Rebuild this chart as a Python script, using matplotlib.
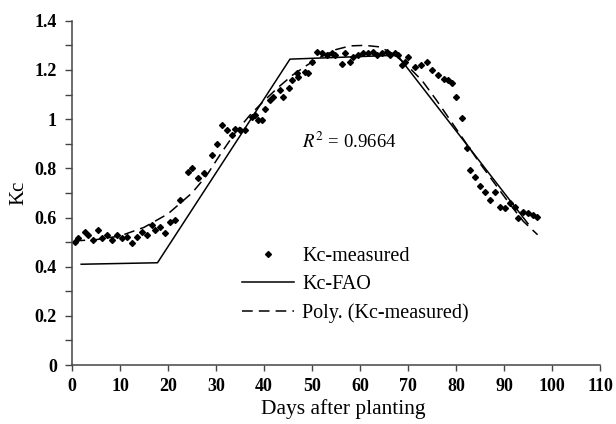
import matplotlib
matplotlib.use("Agg")
import matplotlib.pyplot as plt
from matplotlib.ticker import MultipleLocator
from matplotlib.legend_handler import HandlerLine2D

# Kc measured
days_meas = [0.6, 1.3, 2.7, 3.4, 4.4, 5.5, 6.2, 7.2, 8.3, 9.3, 10.3, 11.4, 12.4, 13.5,
             14.5, 15.6, 16.6, 17.3, 18.3, 19.4, 20.4, 21.5, 22.5, 24.2, 24.9, 26.3,
             27.4, 29.1, 30.3, 31.2, 32.2, 33.3, 34.0, 35.0, 36.0, 37.4, 38.1, 38.8,
             39.5, 40.2, 41.3, 41.9, 43.3, 44.0, 45.1, 45.8, 46.8, 47.1, 48.5, 49.2,
             49.9, 51.0, 52.0, 53.1, 54.1, 54.8, 56.2, 56.9, 57.9, 58.6, 59.6, 60.7,
             61.7, 62.8, 63.5, 64.5, 65.6, 66.3, 67.3, 68.0, 68.7, 69.3, 70.1, 71.5,
             72.8, 73.9, 74.9, 76.3, 77.4, 78.4, 79.1, 80.1, 81.2, 82.2, 82.9, 84.0,
             85.0, 86.0, 87.1, 88.1, 89.2, 90.2, 91.3, 92.3, 93.0, 94.0, 95.1, 96.1, 96.8]
kc_meas = [0.50, 0.515, 0.54, 0.53, 0.51, 0.55, 0.515, 0.53, 0.51, 0.53, 0.515, 0.52, 0.495, 0.52,
           0.54, 0.53, 0.57, 0.55, 0.56, 0.535, 0.58, 0.59, 0.67, 0.785, 0.80, 0.76,
           0.78, 0.855, 0.90, 0.975, 0.955, 0.935, 0.96, 0.955, 0.955, 1.01, 1.016, 0.996,
           0.996, 1.043, 1.077, 1.09, 1.118, 1.09, 1.125, 1.158, 1.186, 1.172, 1.192, 1.186,
           1.233, 1.274, 1.267, 1.26, 1.267, 1.26, 1.226, 1.267, 1.233, 1.253, 1.26, 1.267,
           1.267, 1.274, 1.26, 1.267, 1.274, 1.26, 1.267, 1.26, 1.22, 1.233, 1.253, 1.213,
           1.22, 1.233, 1.199, 1.179, 1.165, 1.159, 1.145, 1.09, 1.003, 0.881, 0.793, 0.766,
           0.73, 0.705, 0.67, 0.705, 0.643, 0.637, 0.657, 0.643, 0.596, 0.623, 0.617, 0.61, 0.603]

# Kc FAO
days_fao = [1.9, 17.8, 45.4, 67.8, 95.0]
kc_fao = [0.41, 0.416, 1.244, 1.26, 0.575]

# polynomial trend line
days_poly = [0.5, 5, 10, 15, 20, 25, 28, 31, 34, 37, 40, 43, 46, 49, 52, 55, 58, 61,
             64, 67, 70, 73, 76, 79, 82, 85, 88, 91, 94, 97]
kc_poly = [0.505, 0.51, 0.525, 0.56, 0.615, 0.70, 0.77, 0.86, 0.945, 1.015, 1.075, 1.13,
           1.18, 1.22, 1.255, 1.283, 1.298, 1.30, 1.294, 1.265, 1.215, 1.155, 1.075, 0.99,
           0.905, 0.82, 0.74, 0.66, 0.585, 0.53]

x_ticks = list(range(0, 111, 10))
y_ticks = [0, 0.2, 0.4, 0.6, 0.8, 1, 1.2, 1.4]
y_ticklabels = ['0', '0.2', '0.4', '0.6', '0.8', '1', '1.2', '1.4']


class RightMarker(HandlerLine2D):
    # legend marker sits toward the right end of the handle, like the original
    def get_xdata(self, legend, xdescent, ydescent, width, height, fontsize):
        return [-xdescent, -xdescent + width], [-xdescent + 0.75 * width]


plt.rcParams['font.family'] = ['Liberation Serif', 'DejaVu Serif']
plt.rcParams['mathtext.fontset'] = 'stix'

fig = plt.figure(figsize=(6.16, 4.24), dpi=100)
ax = fig.add_axes([0.117, 0.139, 0.857, 0.812])

meas, = ax.plot(days_meas, kc_meas, linestyle='none', marker='D', markersize=3.0,
                color='black', label='Kc-measured')
ax.plot(days_fao, kc_fao, color='black', lw=1.1, label='Kc-FAO')
ax.plot(days_poly, kc_poly, color='black', lw=1.1, dashes=(7, 4),
        label='Poly. (Kc-measured)')

ax.set_xlim(0, 110)
ax.set_ylim(0, 1.4)
ax.set_xticks(x_ticks)
ax.set_yticks(y_ticks)
ax.set_yticklabels(y_ticklabels)
ax.yaxis.set_minor_locator(MultipleLocator(0.1))
for lab in ax.get_xticklabels() + ax.get_yticklabels():
    lab.set_fontweight('bold')
    lab.set_fontsize(13)

ax.spines['top'].set_visible(False)
ax.spines['right'].set_visible(False)
for s in ['left', 'bottom']:
    ax.spines[s].set_color('#444444')
    ax.spines[s].set_linewidth(1.1)
ax.tick_params(axis='both', which='both', direction='out', color='#444444', width=1.0)
ax.tick_params(axis='y', which='both', length=5, pad=6)
ax.tick_params(axis='x', which='major', length=4, pad=5)

ax.set_xlabel('Days after planting', fontsize=15.5, labelpad=4)
ax.xaxis.set_label_coords(0.513, -0.1)
ax.set_ylabel('Kc', fontsize=15, labelpad=4)

ax.text(47.9, 0.908, r'$R^2$ = 0.9664', fontsize=13.5, va='center', ha='left')

ax.legend(loc='upper left', bbox_to_anchor=(0.322, 0.343), frameon=False, fontsize=14.5,
          handlelength=2.6, labelspacing=0.45, handletextpad=0.4,
          borderpad=0, borderaxespad=0, numpoints=1,
          handler_map={meas: RightMarker()})

fig.savefig('out.png', dpi=100)
